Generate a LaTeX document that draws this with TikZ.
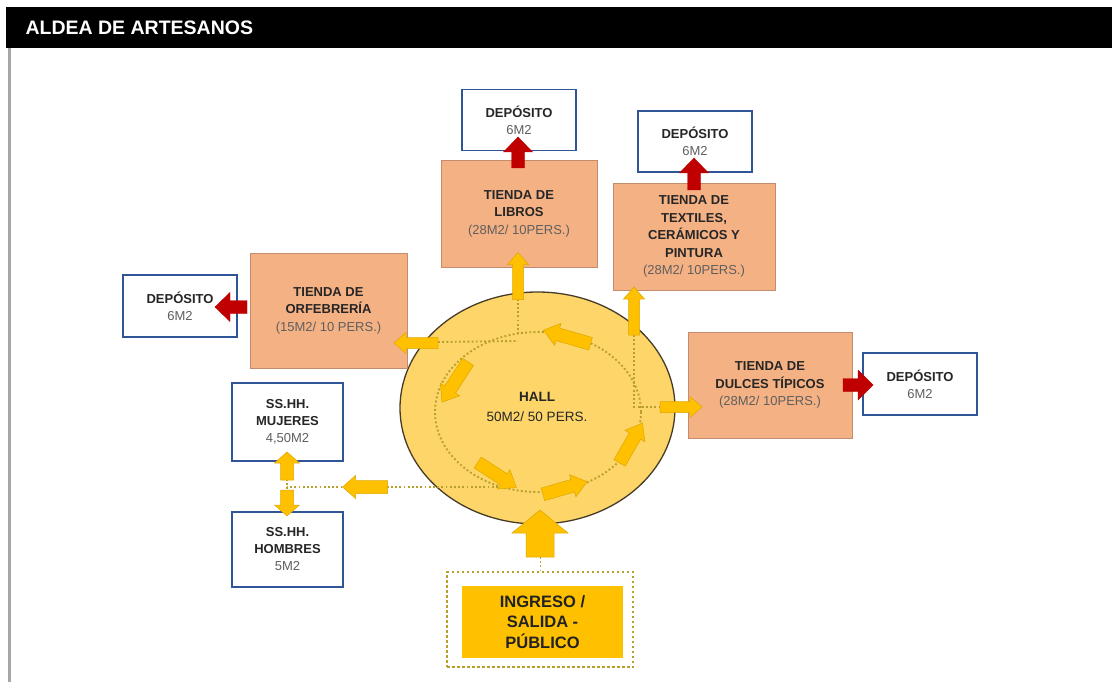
\documentclass[tikz,border=0pt]{standalone}
\usepackage{fontspec}
\setmainfont{Liberation Sans}
\usetikzlibrary{shapes.geometric}

\definecolor{salmon}{RGB}{244,177,131}
\definecolor{salmonline}{RGB}{196,140,110}
\definecolor{depline}{RGB}{47,85,151}
\definecolor{hallfill}{RGB}{253,213,104}
\definecolor{hallline}{RGB}{70,60,40}
\definecolor{gold}{RGB}{255,192,0}
\definecolor{goldline}{RGB}{222,168,0}
\definecolor{dotline}{RGB}{185,160,45}
\definecolor{redarr}{RGB}{192,0,0}
\definecolor{ink}{RGB}{38,38,38}
\definecolor{note}{RGB}{95,95,95}

% light figures under the bold names
\newcommand{\dato}{\color{note}\mdseries}

% block arrow: style, centre, angle, length, shaft half, head half, head length
\newcommand{\blockarrow}[7]{%
  \begin{scope}[shift={#2}, rotate=#3]
    \filldraw[#1] (-#4/2,-#5) -- ({#4/2-#7},-#5) -- ({#4/2-#7},-#6) -- (#4/2,0)
      -- ({#4/2-#7},#6) -- ({#4/2-#7},#5) -- (-#4/2,#5) -- cycle;
  \end{scope}}

\tikzset{
  tienda/.style={draw=salmonline, line width=0.8pt, fill=salmon, align=center,
    inner sep=0pt, text=ink, font=\fontsize{13}{17.5}\selectfont\bfseries},
  deposito/.style={draw=depline, line width=1.6pt, fill=white, align=center,
    inner sep=0pt, text=ink, font=\fontsize{13}{17}\selectfont\bfseries},
  ruta/.style={dotline, line width=1.9pt, dash pattern=on 1.9pt off 2.3pt},
  amarilla/.style={fill=gold, draw=goldline, line width=0.5pt},
  roja/.style={fill=redarr, draw=redarr, line width=0.4pt}
}

\begin{document}
\begin{tikzpicture}[x=1pt, y=-1pt]

  \useasboundingbox (0,0) rectangle (1112,682);

  % title bar and left rule
  \fill[black] (6,7) rectangle (1112,48);
  \node[anchor=west, text=white, font=\fontsize{19.5}{20}\selectfont\bfseries] (titulo) at (22,28) {ALDEA DE ARTESANOS};
  \fill[gray!70] (8,48) rectangle (11,682);

  % hall
  \node[ellipse, draw=hallline, line width=1.3pt, fill=hallfill,
    minimum width=275, minimum height=232] (hall) at (537.5,408) {};
  \node[align=center, text=ink, font=\fontsize{13.5}{19.5}\selectfont] (halltxt) at (537,407)
    {\textbf{HALL}\\50M2/ 50 PERS.};

  % shops
  \node[tienda, minimum width=156, minimum height=107] (libros) at (519,213.5)
    {TIENDA DE\\LIBROS\\{\dato (28M2/ 10PERS.)}};
  \node[tienda, minimum width=162, minimum height=107] (textiles) at (694,236.5)
    {TIENDA DE\\TEXTILES,\\CERÁMICOS Y\\PINTURA\\{\dato (28M2/ 10PERS.)}};
  \node[tienda, minimum width=157, minimum height=115] (orfebreria) at (328.5,310.5)
    {TIENDA DE\\ORFEBRERÍA\\{\dato (15M2/ 10 PERS.)}};
  \node[tienda, minimum width=164, minimum height=106] (dulces) at (770,385)
    {TIENDA DE\\DULCES TÍPICOS\\{\dato (28M2/ 10PERS.)}};

  % storage rooms
  \node[deposito, minimum width=114, minimum height=61] (deplibros) at (519,120)
    {DEPÓSITO\\{\dato 6M2}};
  \node[deposito, minimum width=114, minimum height=61] (deptextiles) at (695,141.5)
    {DEPÓSITO\\{\dato 6M2}};
  \node[deposito, minimum width=114, minimum height=62] (deporfebreria) at (180,306)
    {DEPÓSITO\\{\dato 6M2}};
  \node[deposito, minimum width=114, minimum height=62] (depdulces) at (920,384)
    {DEPÓSITO\\{\dato 6M2}};

  % toilets
  \node[deposito, minimum width=111, minimum height=78] (mujeres) at (287.5,422)
    {SS.HH.\\MUJERES\\{\dato 4,50M2}};
  \node[deposito, minimum width=111, minimum height=75] (hombres) at (287.5,549.5)
    {SS.HH.\\HOMBRES\\{\dato 5M2}};

  % public entrance
  \node[draw=dotline, line width=2.5pt, dash pattern=on 2.5pt off 2.5pt,
    minimum width=186, minimum height=95] (ingresomarco) at (540,619.5) {};
  \node[fill=gold, align=center, text=ink!90!black, minimum width=161, minimum height=72,
    font=\fontsize{16.5}{20.5}\selectfont\bfseries] (ingreso) at (542.5,622)
    {INGRESO /\\SALIDA -\\PÚBLICO};

  % circulation points
  \coordinate (nudoN) at (518,334);
  \coordinate (nudoNO) at (518,341);
  \coordinate (nudoE) at (634,407);
  \coordinate (nudoSO) at (502,487);
  \coordinate (nudoSS) at (287,487);
  \coordinate (colaLibros) at (518,300);
  \coordinate (colaTextiles) at (634,335);
  \coordinate (colaOrf) at (438,342);
  \coordinate (colaDulces) at (660,407);
  \coordinate (colaSS) at (387,487);
  \coordinate (colaIngreso) at (540,557);

  % dotted circulation
  \draw[ruta] (538,412) ellipse [x radius=103, y radius=80];
  \draw[ruta] (nudoN) -- (colaLibros);
  \draw[ruta] (colaOrf) -- (nudoNO);
  \draw[ruta] (colaTextiles) -- (nudoE) -- (colaDulces);
  \draw[ruta] (nudoSO) -- (nudoSS);
  \draw[ruta] (nudoSS |- mujeres.south) -- (nudoSS |- hombres.north);
  \draw[ruta, line width=1pt] (colaIngreso) -- (ingresomarco.north);

  % arrows round the hall
  \blockarrow{amarilla}{(567,337)}{164}{49}{6.5}{11.5}{15}
  \blockarrow{amarilla}{(455,382)}{237}{48}{6.5}{11.5}{15}
  \blockarrow{amarilla}{(497,475)}{-33}{46}{6.5}{11.5}{15}
  \blockarrow{amarilla}{(565,488)}{16}{46}{6.5}{11.5}{15}
  \blockarrow{amarilla}{(631,443)}{60}{46}{6.5}{11.5}{15}

  % arrows out of the hall
  \blockarrow{amarilla}{(518,276)}{90}{47}{5.5}{10.5}{12}
  \blockarrow{amarilla}{(634,311)}{90}{48}{5.5}{10.5}{12}
  \blockarrow{amarilla}{(416,343)}{180}{44}{5.5}{10.5}{12}
  \blockarrow{amarilla}{(681,407)}{0}{42}{5.5}{10.5}{12}
  \blockarrow{amarilla}{(365,487)}{180}{45}{6.5}{11.5}{13}
  \blockarrow{amarilla}{(287,466)}{90}{28}{6.5}{12.5}{11}
  \blockarrow{amarilla}{(287,503)}{-90}{26}{6.5}{12.5}{11}

  % entrance arrow
  \blockarrow{amarilla}{(540,533.5)}{90}{47}{14}{28}{23}

  % arrows to storage
  \blockarrow{roja}{(518,152.5)}{90}{31}{6.5}{14.5}{15}
  \blockarrow{roja}{(694,174)}{90}{32}{6.5}{14.5}{15}
  \blockarrow{roja}{(231,307)}{180}{32}{6.5}{14.5}{15}
  \blockarrow{roja}{(858,385)}{0}{30}{6.5}{15}{15}

\end{tikzpicture}
\end{document}
